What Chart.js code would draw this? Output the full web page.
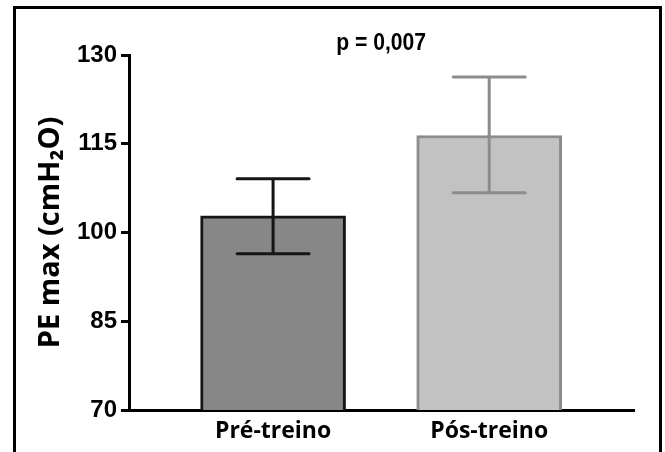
<!DOCTYPE html>
<html>
<head>
<meta charset="utf-8">
<script src="https://cdn.jsdelivr.net/npm/chart.js@4"></script>
<style>
  html, body { margin: 0; padding: 0; background: #fff; }
  #wrap { width: 665px; height: 452px; position: relative; }
</style>
</head>
<body>
<div id="wrap"><canvas id="chart"></canvas></div>
<script>
// data
const categories = ["Pré-treino", "Pós-treino"];
const means = [102.8, 116.4];
const errLow = [96.4, 106.7];
const errHigh = [109.1, 126.3];
const yTicks = [70, 85, 100, 115, 130];
const pText = "p = 0,007";

const fills = ["#878787", "#c2c2c2"];
const edges = ["#151515", "#8c8c8c"];

const arial = "'Liberation Sans', Arial, sans-serif";
const sans = "'Open Sans', 'Noto Sans', sans-serif";

// frame round the whole picture
const framePlugin = {
  id: "frame",
  beforeDraw(chart) {
    const ctx = chart.ctx;
    ctx.save();
    ctx.fillStyle = "#fff";
    ctx.fillRect(0, 0, chart.width, chart.height);
    ctx.strokeStyle = "#000";
    ctx.lineWidth = 3;
    ctx.beginPath();
    ctx.moveTo(14.5, chart.height + 10);
    ctx.lineTo(14.5, 7.5);
    ctx.lineTo(660.5, 7.5);
    ctx.lineTo(660.5, chart.height + 10);
    ctx.stroke();
    ctx.restore();
  }
};

// error bars + p value
const errorPlugin = {
  id: "errors",
  afterDatasetsDraw(chart) {
    const ctx = chart.ctx;
    const x = chart.scales.x;
    const y = chart.scales.y;
    ctx.save();
    ctx.lineWidth = 3;
    ctx.lineCap = "round";
    categories.forEach((c, i) => {
      const px = x.getPixelForValue(i + 1);
      const top = y.getPixelForValue(errHigh[i]);
      const bot = y.getPixelForValue(errLow[i]);
      ctx.strokeStyle = edges[i];
      ctx.beginPath();
      ctx.moveTo(px, top);
      ctx.lineTo(px, bot);
      ctx.moveTo(px - 36, top);
      ctx.lineTo(px + 36, top);
      ctx.moveTo(px - 36, bot);
      ctx.lineTo(px + 36, bot);
      ctx.stroke();
    });
    // narrow bold text, squeezed a bit like the original
    ctx.fillStyle = "#000";
    ctx.font = "bold 24px " + arial;
    ctx.textAlign = "center";
    ctx.textBaseline = "middle";
    ctx.translate(x.getPixelForValue(1.5), y.top - 12);
    ctx.scale(0.88, 1);
    ctx.fillText(pText, 0, 0);
    ctx.restore();
  }
};

new Chart(document.getElementById("chart"), {
  type: "bar",
  data: {
    datasets: [{
      data: categories.map((c, i) => ({ x: i + 1, y: means[i] })),
      backgroundColor: fills,
      borderColor: edges,
      borderWidth: 3,
      barThickness: 145
    }]
  },
  options: {
    responsive: true,
    maintainAspectRatio: false,
    animation: false,
    layout: { padding: { top: 55, right: 31, bottom: 0, left: 0 } },
    plugins: {
      legend: { display: false },
      tooltip: { enabled: false }
    },
    scales: {
      x: {
        type: "linear",
        offset: false,
        min: 1 / 3,
        max: 2.67,
        afterBuildTicks: (s) => { s.ticks = categories.map((c, i) => ({ value: i + 1 })); },
        afterFit: (s) => { s.height = 42; },
        grid: { display: false, drawTicks: false },
        border: { color: "#000", width: 3 },
        ticks: {
          padding: 8,
          color: "#000",
          font: { family: sans, size: 23, weight: "bold" },
          callback: (v) => categories[v - 1] || ""
        }
      },
      y: {
        min: 70,
        max: 130,
        afterBuildTicks: (s) => { s.ticks = yTicks.map((v) => ({ value: v })); },
        afterFit: (s) => { s.width = 129; },
        grid: { drawOnChartArea: false, drawTicks: true, tickLength: 8, color: "#000", lineWidth: 3 },
        border: { color: "#000", width: 3 },
        ticks: {
          padding: 4,
          color: "#000",
          font: { family: arial, size: 24, weight: "bold" }
        },
        title: {
          display: true,
          text: "PE max (cmH₂O)",
          color: "#000",
          padding: { top: 33, bottom: 0 },
          font: { family: sans, size: 29, weight: "bold" }
        }
      }
    }
  },
  plugins: [framePlugin, errorPlugin]
});
</script>
</body>
</html>
